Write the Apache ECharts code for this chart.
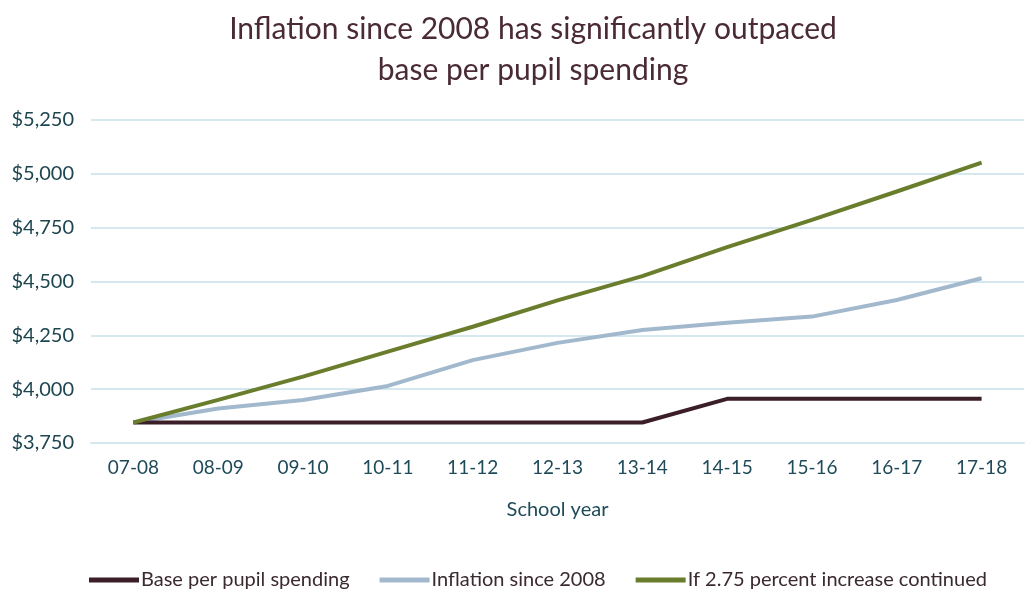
<!DOCTYPE html>
<html>
<head>
<meta charset="utf-8">
<script src="https://cdn.jsdelivr.net/npm/echarts@6/dist/echarts.min.js"></script>
<style>
  html, body { margin: 0; padding: 0; background: #fff; }
  #container { width: 1026px; height: 596px; }
</style>
</head>
<body>
<div id="container"></div>
<script>
var years = ['07-08', '08-09', '09-10', '10-11', '11-12', '12-13', '13-14', '14-15', '15-16', '16-17', '17-18'];
var basePerPupil = [3845, 3845, 3845, 3845, 3845, 3845, 3845, 3955, 3955, 3955, 3955];
var inflation = [3845, 3910, 3950, 4015, 4135, 4215, 4275, 4308, 4337, 4414, 4515];
var continued = [3845, 3950, 4058, 4174, 4290, 4412, 4525, 4660, 4786, 4918, 5052];

var fontFam = 'Lato, "DejaVu Sans", sans-serif';
var dom = document.getElementById("container");
var myChart = echarts.init(dom);

var option = {
    animation: false,
    backgroundColor: '#fff',
    title: {
        text: 'Inflation since 2008 has significantly outpaced\nbase per pupil spending',
        left: 528,
        textAlign: 'center',
        top: 4,
        textStyle: {
            fontFamily: fontFam,
            fontSize: 30,
            fontWeight: 'normal',
            color: '#4a2a35',
            lineHeight: 41
        }
    },
    legend: {
        bottom: 1,
        left: 84,
        icon: 'rect',
        itemWidth: 50,
        itemHeight: 5,
        itemGap: 30,
        textStyle: {
            fontFamily: fontFam,
            fontSize: 20,
            color: '#3a2a30',
            padding: [0, 0, 0, -3]
        },
        data: ['Base per pupil spending', 'Inflation since 2008', 'If 2.75 percent increase continued']
    },
    grid: {
        left: 91,
        right: 2,
        top: 120,
        bottom: 153
    },
    xAxis: {
        type: 'category',
        data: years,
        boundaryGap: true,
        name: 'School year',
        nameLocation: 'middle',
        nameGap: 57,
        nameTextStyle: {
            fontFamily: fontFam,
            fontSize: 20,
            color: '#1f4a5a'
        },
        axisLine: { show: true, lineStyle: { color: '#d6e8ef', width: 2 } },
        axisTick: { show: false },
        axisLabel: {
            margin: 15,
            fontFamily: fontFam,
            fontSize: 19,
            color: '#1f4a5a'
        }
    },
    yAxis: {
        type: 'value',
        min: 3750,
        max: 5250,
        interval: 250,
        axisLine: { show: false },
        axisTick: { show: false },
        splitLine: { lineStyle: { color: '#d6e8ef', width: 2 } },
        axisLabel: {
            margin: 17,
            fontFamily: fontFam,
            fontSize: 20,
            color: '#1d4650',
            formatter: function (v) {
                return '$' + v.toLocaleString('en-US');
            }
        }
    },
    series: [
        {
            name: 'Base per pupil spending',
            type: 'line',
            data: basePerPupil,
            showSymbol: false,
            symbol: 'none',
            color: '#3b1e28',
            lineStyle: { width: 4, color: '#3b1e28' },
            z: 3
        },
        {
            name: 'Inflation since 2008',
            type: 'line',
            data: inflation,
            showSymbol: false,
            symbol: 'none',
            color: '#a2b9cd',
            lineStyle: { width: 4, color: '#a2b9cd' },
            z: 2
        },
        {
            name: 'If 2.75 percent increase continued',
            type: 'line',
            data: continued,
            showSymbol: false,
            symbol: 'none',
            color: '#6a7d2c',
            lineStyle: { width: 4, color: '#6a7d2c' },
            z: 4
        }
    ]
};

myChart.setOption(option, true);
</script>
</body>
</html>
